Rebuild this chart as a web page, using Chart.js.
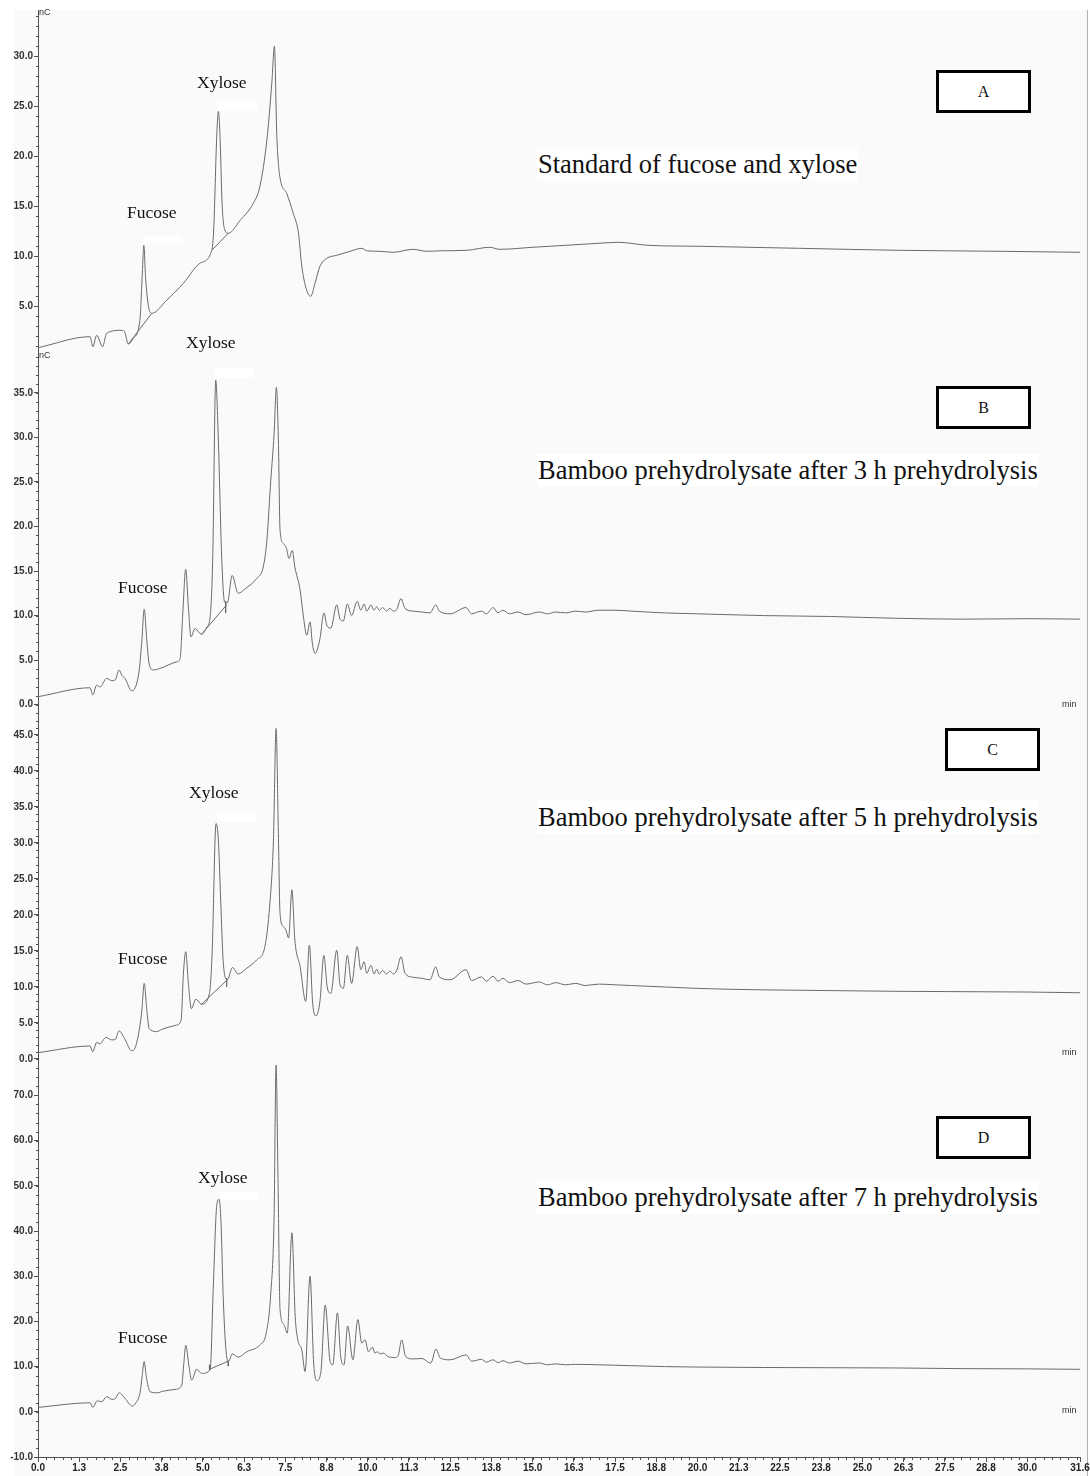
<!DOCTYPE html>
<html>
<head>
<meta charset="utf-8">
<title>Chromatograms</title>
<script src="https://cdn.jsdelivr.net/npm/chart.js@4.4.1/dist/chart.umd.min.js"></script>
<style>
    body { margin: 0; width: 1090px; height: 1476px; background: #fff; position: relative; overflow: hidden; font-family: "Liberation Serif", "Times New Roman", serif; }
    #plotbg { position: absolute; left: 14px; top: 10px; width: 1073px; height: 1466px; background: #fafafa; border-right: 1px solid #b0b0b0; }
    canvas { position: absolute; left: 0; }
    .lbl { position: absolute; font-size: 17.5px; line-height: 1; color: #111; white-space: nowrap; transform: translateY(-50%); }
    .title { position: absolute; left: 537px; font-size: 26.5px; line-height: 1; color: #111; white-space: nowrap; background: #fff; padding: 3px 1px; transform: translateY(-50%); }
    .box { position: absolute; width: 95px; height: 43px; box-sizing: border-box; border: 3px solid #000; background: #fff; display: flex; align-items: center; justify-content: center; font-size: 16px; color: #111; }
    .unit { position: absolute; font: 9px "Liberation Sans", Arial, sans-serif; color: #333; line-height: 1; transform: translateY(-50%); }
    .patch { position: absolute; background: #fff; }
</style>
</head>
<body>
<div id="plotbg"></div>

<canvas id="ChartA" width="1090" height="340" style="top:10px"></canvas>
<canvas id="ChartB" width="1090" height="358" style="top:350px"></canvas>
<canvas id="ChartC" width="1090" height="354" style="top:708px"></canvas>
<canvas id="ChartD" width="1090" height="414" style="top:1062px"></canvas>

<!-- white patches left over in the original figure -->
<div class="patch" style="left:144px;top:236px;width:38px;height:7px"></div>
<div class="patch" style="left:218px;top:101px;width:39px;height:10px"></div>
<div class="patch" style="left:215px;top:368px;width:38px;height:10px"></div>
<div class="patch" style="left:217px;top:813px;width:38px;height:9px"></div>
<div class="patch" style="left:220px;top:1192px;width:38px;height:8px"></div>

<!-- peak names -->
<div class="lbl" style="left:127px;top:213px">Fucose</div>
<div class="lbl" style="left:197px;top:83px">Xylose</div>
<div class="lbl" style="left:186px;top:343px">Xylose</div>
<div class="lbl" style="left:118px;top:588px">Fucose</div>
<div class="lbl" style="left:189px;top:793px">Xylose</div>
<div class="lbl" style="left:118px;top:959px">Fucose</div>
<div class="lbl" style="left:198px;top:1178px">Xylose</div>
<div class="lbl" style="left:118px;top:1338px">Fucose</div>

<!-- panel titles -->
<div class="title" style="top:164px">Standard of fucose and xylose</div>
<div class="title" style="top:470px">Bamboo prehydrolysate after 3 h prehydrolysis</div>
<div class="title" style="top:817px">Bamboo prehydrolysate after 5 h prehydrolysis</div>
<div class="title" style="top:1197px">Bamboo prehydrolysate after 7 h prehydrolysis</div>

<div class="box" style="left:936px;top:70px">A</div>
<div class="box" style="left:936px;top:386px">B</div>
<div class="box" style="left:945px;top:728px">C</div>
<div class="box" style="left:936px;top:1116px">D</div>

<!-- units -->
<div class="unit" style="left:39px;top:12px">nC</div>
<div class="unit" style="left:39px;top:355px">nC</div>
<div class="unit" style="left:1062px;top:704px">min</div>
<div class="unit" style="left:1062px;top:1052px">min</div>
<div class="unit" style="left:1062px;top:1410px">min</div>

<script>
// ---- data (time in min, signal in nC) ----

// A - standard of fucose and xylose
const timeA = [0, 1.58, 1.66, 1.78, 1.96, 2.08, 2.54, 2.62, 2.74, 2.89, 3.09, 3.16, 3.21, 3.26, 3.35, 3.45,
    3.9, 4.41, 4.91, 5.27, 5.33, 5.42, 5.47, 5.52, 5.58, 5.65, 5.77, 6.13, 6.53, 6.73, 6.94, 7.09, 7.17,
    7.24, 7.32, 7.54, 7.74, 7.9, 8.0, 8.15, 8.27, 8.4, 8.55, 8.76, 9.06, 9.46, 9.82, 9.97, 10.37, 10.77,
    11.37, 11.79, 12.2, 13.0, 13.7, 14.0, 15.0, 16.0, 17.0, 17.6, 18.5, 20.1, 23.1, 26.1, 29.2, 31.6];
const signalA = [0.86, 1.96, 0.96, 2.1, 0.96, 2.3, 2.6, 2.5, 1.23, 1.8, 3.6, 8.0, 11.1, 8.0, 5.0, 4.3,
    5.6, 7.3, 9.3, 10.6, 12.8, 22.0, 24.5, 22.0, 15.5, 12.8, 12.3, 13.6, 15.3, 17.0, 21.6, 27.3, 31.0,
    22.3, 18.3, 16.3, 14.3, 12.3, 9.0, 6.6, 6.0, 7.3, 9.0, 9.8, 10.1, 10.5, 10.8, 10.55, 10.5, 10.4,
    10.7, 10.5, 10.55, 10.6, 10.9, 10.7, 10.9, 11.1, 11.3, 11.4, 11.1, 11.0, 10.8, 10.6, 10.5, 10.4];
// integration baselines: [t1, v1, t2, v2]
const baseA = [[2.74, 1.23, 3.45, 4.3], [5.27, 10.6, 5.77, 12.3]];

// B - 3 h prehydrolysis
const timeB = [0, 1.58, 1.66, 1.78, 1.88, 2.08, 2.24, 2.34, 2.46, 2.54, 2.64, 2.84, 2.94, 3.07, 3.15, 3.22,
    3.3, 3.37, 3.5, 3.7, 4.2, 4.31, 4.39, 4.48, 4.56, 4.64, 4.76, 4.96, 5.12, 5.22, 5.3, 5.39, 5.47, 5.57,
    5.66, 5.74, 5.89, 6.07, 6.28, 6.63, 6.83, 6.94, 7.06, 7.16, 7.23, 7.29, 7.34, 7.44, 7.54, 7.61, 7.71,
    7.79, 7.95, 8.05, 8.15, 8.25, 8.32, 8.4, 8.55, 8.67, 8.77, 8.88, 9.06, 9.16, 9.26, 9.38, 9.51, 9.68,
    9.79, 9.89, 9.97, 10.1, 10.19, 10.27, 10.35, 10.45, 10.57, 10.67, 10.78, 10.88, 11.01, 11.13, 11.38,
    11.64, 11.89, 12.06, 12.17, 12.5, 12.98, 13.15, 13.45, 13.6, 13.8, 13.95, 14.1, 14.3, 14.56, 14.8,
    15.2, 15.45, 15.7, 16.0, 16.3, 16.6, 17.0, 17.5, 18.0, 19.0, 20.0, 22.0, 24.0, 26.0, 28.0, 30.0, 31.6];
const signalB = [0.9, 1.9, 1.09, 2.2, 2.0, 2.95, 2.7, 2.77, 3.9, 3.3, 2.95, 1.57, 1.84, 3.9, 7.2, 10.7,
    7.2, 4.6, 3.9, 4.07, 4.8, 5.2, 10.2, 15.2, 11.0, 7.6, 8.55, 7.9, 8.7, 9.85, 16.6, 36.4, 29.6, 16.6,
    11.5, 11.4, 14.5, 12.5, 13.0, 14.15, 15.45, 18.4, 25.2, 30.4, 35.6, 29.6, 19.6, 18.1, 17.5, 16.4, 17.3,
    15.45, 12.85, 9.85, 7.8, 9.3, 6.9, 5.75, 7.4, 10.3, 8.8, 8.6, 11.2, 9.6, 9.4, 11.3, 10.0, 11.6,
    10.6, 11.3, 10.5, 11.2, 10.6, 11.0, 10.6, 10.9, 10.5, 10.8, 10.5, 10.7, 11.9, 10.8, 10.5,
    10.4, 10.3, 11.2, 10.5, 10.2, 10.9, 10.2, 10.5, 10.2, 10.9, 10.3, 10.6, 10.2, 10.4, 10.1,
    10.4, 10.2, 10.4, 10.3, 10.5, 10.4, 10.6, 10.6, 10.5, 10.3, 10.2, 10.0, 9.9, 9.7, 9.6, 9.65, 9.6];
const baseB = [[4.96, 7.9, 5.72, 11.2], [5.69, 11.6, 5.69, 10.3]];

// C - 5 h prehydrolysis
const timeC = [0, 1.58, 1.66, 1.78, 1.88, 2.06, 2.24, 2.34, 2.46, 2.64, 2.84, 2.94, 3.07, 3.15, 3.22, 3.3,
    3.37, 3.6, 3.75, 4.2, 4.34, 4.41, 4.48, 4.56, 4.65, 4.79, 4.96, 5.2, 5.28, 5.4, 5.47, 5.54, 5.62, 5.74,
    5.9, 6.07, 6.33, 6.63, 6.88, 7.04, 7.14, 7.22, 7.29, 7.34, 7.44, 7.52, 7.6, 7.7, 7.79, 7.95, 8.12,
    8.23, 8.33, 8.43, 8.55, 8.67, 8.77, 8.88, 9.06, 9.16, 9.26, 9.38, 9.51, 9.68, 9.79, 9.89, 9.97, 10.1,
    10.19, 10.27, 10.35, 10.45, 10.57, 10.67, 10.78, 10.88, 11.01, 11.13, 11.38, 11.64, 11.89, 12.06,
    12.17, 12.5, 12.98, 13.15, 13.45, 13.6, 13.8, 13.95, 14.1, 14.3, 14.56, 14.8, 15.2, 15.45, 15.7,
    16.0, 16.3, 16.6, 17.0, 17.5, 18.0, 19.0, 20.0, 22.0, 24.0, 26.0, 28.0, 30.0, 31.6];
const signalC = [0.88, 1.8, 1.0, 2.3, 2.1, 3.0, 2.65, 2.7, 3.9, 2.7, 1.15, 1.5, 4.0, 6.8, 10.5, 6.8,
    4.25, 3.8, 4.1, 4.7, 5.4, 11.9, 14.9, 10.5, 7.0, 8.3, 7.6, 9.1, 14.7, 32.7, 30.4, 22.1, 13.3, 11.0,
    12.7, 11.8, 12.6, 13.75, 15.6, 22.1, 30.4, 45.9, 31.3, 20.2, 18.4, 17.9, 16.8, 23.5, 16.5, 12.8, 8.0,
    15.8, 7.7, 6.0, 8.0, 14.4, 10.0, 9.1, 15.1, 10.3, 9.8, 14.4, 10.5, 15.6, 12.4, 13.5, 11.9, 13.0,
    11.8, 12.45, 11.8, 12.3, 11.8, 12.2, 11.8, 12.3, 14.2, 11.9, 11.35, 11.2, 11.0, 12.8,
    11.4, 11.0, 12.4, 10.9, 11.4, 10.8, 11.5, 10.8, 11.2, 10.6, 10.9, 10.4, 10.7, 10.3, 10.6,
    10.3, 10.5, 10.2, 10.4, 10.3, 10.2, 10.0, 9.8, 9.6, 9.5, 9.4, 9.35, 9.3, 9.2];
const baseC = [[4.96, 7.6, 5.74, 11.0], [5.72, 11.2, 5.72, 10.0]];

// D - 7 h prehydrolysis
const timeD = [0, 1.58, 1.66, 1.8, 1.93, 2.08, 2.24, 2.34, 2.46, 2.64, 2.86, 2.97, 3.1, 3.16, 3.22, 3.28,
    3.32, 3.4, 3.65, 3.75, 4.2, 4.36, 4.42, 4.48, 4.58, 4.66, 4.81, 4.96, 5.22, 5.32, 5.42, 5.49, 5.55,
    5.62, 5.7, 5.77, 5.9, 6.07, 6.33, 6.73, 6.92, 7.06, 7.16, 7.22, 7.28, 7.34, 7.46, 7.56, 7.7, 7.8,
    7.88, 8.0, 8.1, 8.25, 8.36, 8.46, 8.58, 8.71, 8.86, 8.94, 9.08, 9.18, 9.28, 9.39, 9.55, 9.7, 9.82,
    9.92, 10.02, 10.14, 10.22, 10.3, 10.37, 10.47, 10.62, 10.82, 10.92, 11.03, 11.15, 11.37, 11.64,
    11.91, 12.07, 12.2, 12.5, 12.98, 13.15, 13.45, 13.6, 13.8, 13.95, 14.1, 14.3, 14.56, 14.8, 15.2,
    15.45, 15.7, 16.0, 16.3, 17.0, 17.5, 18.0, 19.0, 20.0, 22.0, 24.0, 26.0, 28.0, 30.0, 31.6];
const signalD = [0.97, 2.0, 0.97, 2.45, 2.2, 3.35, 2.75, 2.9, 4.2, 2.95, 1.27, 2.0, 4.45, 8.0, 11.1, 8.0,
    6.3, 4.45, 4.2, 4.5, 5.0, 5.9, 10.5, 14.7, 10.0, 7.0, 9.4, 8.5, 9.25, 28.5, 45.6, 47.0, 41.9,
    24.8, 13.7, 11.1, 12.8, 12.1, 13.3, 14.8, 17.4, 26.3, 43.3, 76.7, 50.7, 22.6, 19.3, 17.4, 39.6, 21.1,
    15.9, 13.7, 8.9, 30.0, 10.75, 6.9, 8.9, 23.6, 11.1, 10.4, 21.9, 12.2, 10.4, 19.0, 11.5, 20.4, 15.2,
    15.9, 13.3, 14.3, 13.0, 13.3, 12.8, 13.0, 12.2, 12.0, 12.4, 15.9, 12.2, 11.7, 11.8,
    10.75, 13.9, 11.9, 11.5, 12.6, 11.2, 11.6, 11.0, 11.5, 10.9, 11.3, 10.8, 11.2, 10.6, 10.8,
    10.4, 10.6, 10.4, 10.5, 10.4, 10.3, 10.2, 10.0, 9.9, 9.8, 9.75, 9.7, 9.55, 9.5, 9.4];
const baseD = [[5.2, 9.4, 5.77, 11.2], [5.2, 10.4, 5.2, 9.3], [5.77, 11.3, 5.77, 10.1]];

// axis ticks
const yTicksA = [5, 10, 15, 20, 25, 30];
const yTicksB = [0, 5, 10, 15, 20, 25, 30, 35];
const yTicksC = [0, 5, 10, 15, 20, 25, 30, 35, 40, 45];
const yTicksD = [-10, 0, 10, 20, 30, 40, 50, 60, 70];
const xTickValues = [0, 1.25, 2.5, 3.75, 5, 6.25, 7.5, 8.75, 10, 11.25, 12.5, 13.75, 15, 16.25, 17.5,
    18.75, 20, 21.25, 22.5, 23.75, 25, 26.25, 27.5, 28.75, 30, 31.6];
const xTickLabels = ['0.0', '1.3', '2.5', '3.8', '5.0', '6.3', '7.5', '8.8', '10.0', '11.3', '12.5', '13.8',
    '15.0', '16.3', '17.5', '18.8', '20.0', '21.3', '22.5', '23.8', '25.0', '26.3', '27.5', '28.8', '30.0', '31.6'];

const axisColor = '#505050';
const traceColor = '#6a6a6a';
const tickFont = { family: 'Liberation Sans', size: 10, weight: 'bold' };

// small unlabeled ticks between the numbered ones
const minorTicks = {
    id: 'minorTicks',
    afterDraw(chart, args, opts) {
        const ctx = chart.ctx;
        ctx.save();
        ctx.strokeStyle = axisColor;
        ctx.lineWidth = 1;
        const ys = chart.scales.y;
        if (opts.y) {
            for (let k = Math.ceil(ys.min / opts.y); k * opts.y <= ys.max; k++) {
                const p = Math.round(ys.getPixelForValue(k * opts.y)) + 0.5;
                ctx.beginPath();
                ctx.moveTo(ys.right - 2, p);
                ctx.lineTo(ys.right, p);
                ctx.stroke();
            }
        }
        const xs = chart.scales.x;
        if (opts.x && xs.options.display) {
            for (let k = 0; k * opts.x <= xs.max; k++) {
                const p = Math.round(xs.getPixelForValue(k * opts.x)) + 0.5;
                ctx.beginPath();
                ctx.moveTo(p, xs.top);
                ctx.lineTo(p, xs.top + 3);
                ctx.stroke();
            }
        }
        ctx.restore();
    }
};

function makePanel(id, times, values, bases, yMin, yMax, yTicks, yMinor, showX) {
    const datasets = [{
        data: times.map((t, i) => ({ x: t, y: values[i] })),
        borderColor: traceColor,
        borderWidth: 1,
        pointRadius: 0,
        cubicInterpolationMode: 'monotone',
        fill: false
    }];
    bases.forEach(s => {
        datasets.push({
            data: [{ x: s[0], y: s[1] }, { x: s[2], y: s[3] }],
            borderColor: traceColor,
            borderWidth: 1,
            pointRadius: 0,
            tension: 0,
            fill: false
        });
    });

    return new Chart(document.getElementById(id), {
        type: 'line',
        data: { datasets: datasets },
        plugins: [minorTicks],
        options: {
            responsive: false,
            animation: false,
            layout: { padding: { left: 0, right: 10, top: 0, bottom: 0 } },
            plugins: {
                legend: { display: false },
                tooltip: { enabled: false },
                minorTicks: { y: yMinor, x: 0.25 }
            },
            scales: {
                x: {
                    type: 'linear',
                    min: 0,
                    max: 31.6,
                    display: showX,
                    border: { display: true, color: axisColor },
                    grid: { drawOnChartArea: false, drawTicks: true, tickLength: 5, color: axisColor },
                    ticks: {
                        autoSkip: false,
                        maxRotation: 0,
                        padding: 0,
                        color: '#222',
                        font: tickFont,
                        callback: (v, i) => xTickLabels[i]
                    },
                    afterBuildTicks: ax => { ax.ticks = xTickValues.map(v => ({ value: v })); },
                    afterFit: ax => {
                        // only the bottom panel shows its time axis
                        if (!showX) return;
                        ax.height = 19; ax.paddingLeft = 0; ax.paddingRight = 0;
                    }
                },
                y: {
                    type: 'linear',
                    min: yMin,
                    max: yMax,
                    border: { display: true, color: axisColor },
                    grid: { drawOnChartArea: false, drawTicks: true, tickLength: 4, color: axisColor },
                    ticks: {
                        autoSkip: false,
                        padding: 1,
                        color: '#333',
                        font: tickFont,
                        callback: v => v.toFixed(1)
                    },
                    afterBuildTicks: ax => { ax.ticks = yTicks.map(v => ({ value: v })); },
                    afterFit: ax => { ax.width = 38; ax.paddingTop = 0; ax.paddingBottom = 0; }
                }
            }
        }
    });
}

makePanel('ChartA', timeA, signalA, baseA, 0.63, 34.63, yTicksA, 1, false);
makePanel('ChartB', timeB, signalB, baseB, -0.37, 39.8, yTicksB, 1, false);
makePanel('ChartC', timeC, signalC, baseC, -0.42, 48.75, yTicksC, 1, false);
makePanel('ChartD', timeD, signalD, baseD, -10, 77.39, yTicksD, 2, true);
</script>
</body>
</html>
